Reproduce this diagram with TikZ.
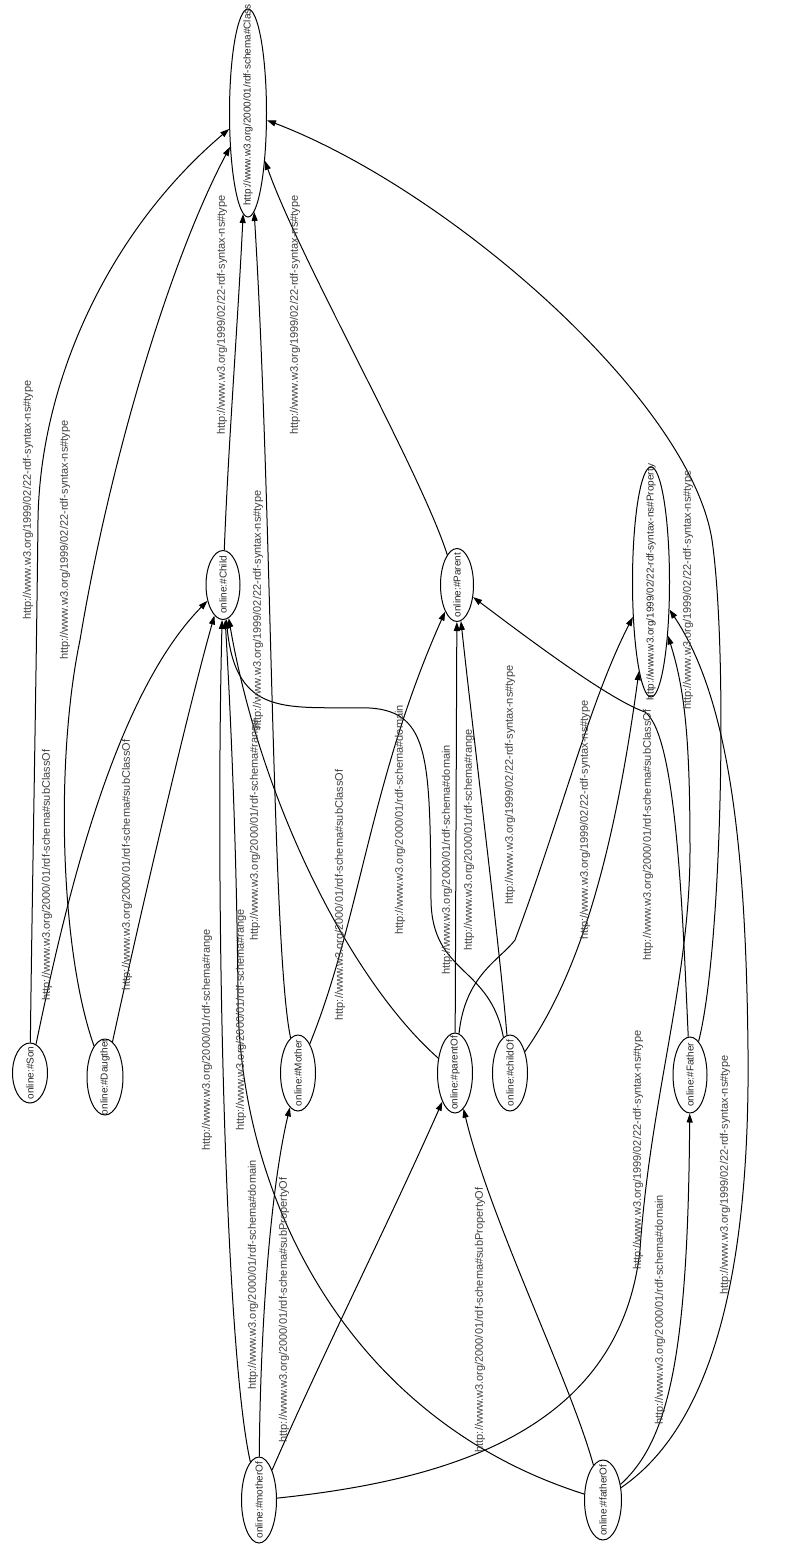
\documentclass[tikz,border=0pt]{standalone}
\usepackage{fontspec}
\setmainfont{Liberation Sans}
\usetikzlibrary{shapes.geometric,arrows.meta}

\tikzset{
  ent/.style 2 args={ellipse, draw, line width=0.5pt, inner sep=0pt, minimum width=#1*0.5pt, minimum height=#2*0.5pt, font=\fontsize{5}{6}\selectfont, text=black!85},
  rel/.style={draw, line width=0.5pt, -{Triangle[length=4.5pt,width=3pt]}},
  lbl/.style={rotate=90, inner sep=0pt, text=black!75},
}
\newcommand{\vtxt}[1]{\rotatebox{90}{\makebox[0pt]{#1}}}

\begin{document}
\begin{tikzpicture}[x=0.5pt,y=-0.5pt,font=\fontsize{5.5}{6.5}\selectfont]
\useasboundingbox[fill=white] (0,0) rectangle (784,1548);

% classes and properties
\node[ent={37}{208}] (cls) at (248,113) {\vtxt{\hspace*{8pt}http://www.w3.org/2000/01/rdf-schema\#Class}};
\node[ent={34}{69}] (child) at (223,585) {\vtxt{online:\#Child}};
\node[ent={33}{73}] (parent) at (457,585) {\vtxt{online:\#Parent}};
\node[ent={37}{230}] (prop) at (651,582) {\vtxt{http://www.w3.org/1999/02/22-rdf-syntax-ns\#Property}};
\node[ent={35}{60}] (son) at (30,1073) {\vtxt{online:\#Son}};
\node[ent={36}{76}] (daughter) at (105,1077) {\vtxt{online:\#Daugther}};
\node[ent={35}{76}] (mother) at (298,1073) {\vtxt{online:\#Mother}};
\node[ent={35}{80}] (parentof) at (455,1073) {\vtxt{online:\#parentOf}};
\node[ent={35}{76}] (childof) at (510,1073) {\vtxt{online:\#childOf}};
\node[ent={34}{76}] (father) at (690,1075) {\vtxt{online:\#Father}};
\node[ent={35}{86}] (motherof) at (259,1500) {\vtxt{online:\#motherOf}};
\node[ent={37}{80}] (fatherof) at (603,1500) {\vtxt{online:\#fatherOf}};

% edges
\draw[rel] (son) .. controls (32,900) and (36,700) .. (38,520) .. controls (40,380) and (110,230) .. (cls);
\draw[rel] (son) .. controls (62,920) and (110,700) .. (child);
\draw[rel] (daughter) .. controls (60,950) and (55,760) .. (80,640) .. controls (110,460) and (170,260) .. (cls);
\draw[rel] (daughter) .. controls (130,960) and (185,720) .. (child);
\draw[rel] (child) .. controls (228,450) and (238,320) .. (cls);
\draw[rel] (mother) .. controls (272,950) and (272,500) .. (cls);
\draw[rel] (parent) .. controls (420,470) and (300,260) .. (cls);
\draw[rel] (mother) .. controls (360,920) and (370,780) .. (parent);
\draw[rel] (parentof) .. controls (350,980) and (260,800) .. (child);
\draw[rel] (motherof) .. controls (225,1350) and (215,900) .. (child);
\draw[rel] (fatherof) .. controls (350,1420) and (240,1200) .. (238,1000) .. controls (237,850) and (230,700) .. (child);
\draw[rel] (childof) .. controls (490,965) and (432,975) .. (431,900) .. controls (430,760) and (430,712) .. (370,708) .. controls (290,706) and (236,720) .. (child);
\draw[rel] (parentof) -- (parent);
\draw[rel] (childof) .. controls (500,950) and (475,750) .. (parent);
\draw[rel] (parentof) .. controls (465,975) and (500,960) .. (515,940) .. controls (560,820) and (590,700) .. (prop);
\draw[rel] (childof) .. controls (575,980) and (612,870) .. (prop);
\draw[rel] (father) .. controls (682,900) and (676,735) .. (645,712) .. controls (610,700) and (530,640) .. (parent);
\draw[rel] (father) .. controls (722,950) and (728,650) .. (712,540) .. controls (690,400) and (450,190) .. (cls);
\draw[rel] (motherof) .. controls (450,1480) and (620,1430) .. (640,1250) .. controls (650,1100) and (690,980) .. (690,850) .. controls (690,740) and (685,690) .. (prop);
\draw[rel] (fatherof) .. controls (720,1420) and (750,1250) .. (748,1050) .. controls (746,850) and (730,700) .. (prop);
\draw[rel] (motherof) .. controls (260,1350) and (268,1200) .. (mother);
\draw[rel] (motherof) .. controls (320,1360) and (390,1220) .. (parentof);
\draw[rel] (fatherof) .. controls (570,1380) and (490,1220) .. (parentof);
\draw[rel] (fatherof) .. controls (670,1440) and (688,1350) .. (father);

% edge labels
\node[lbl] (l1) at (28,500) {http://www.w3.org/1999/02/22-rdf-syntax-ns\#type};
\node[lbl] (l2) at (47,875) {http://www.w3.org/2000/01/rdf-schema\#subClassOf};
\node[lbl] (l3) at (65,540) {http://www.w3.org/1999/02/22-rdf-syntax-ns\#type};
\node[lbl] (l4) at (127,865) {http://www.w3.org/2000/01/rdf-schema\#subClassOf};
\node[lbl] (l5) at (222,315) {http://www.w3.org/1999/02/22-rdf-syntax-ns\#type};
\node[lbl] (l6) at (258,610) {http://www.w3.org/1999/02/22-rdf-syntax-ns\#type};
\node[lbl] (l7) at (295,315) {http://www.w3.org/1999/02/22-rdf-syntax-ns\#type};
\node[lbl] (l8) at (340,895) {http://www.w3.org/2000/01/rdf-schema\#subClassOf};
\node[lbl] (l9) at (255,830) {http://www.w3.org/2000/01/rdf-schema\#range};
\node[lbl] (l10) at (207,1040) {http://www.w3.org/2000/01/rdf-schema\#range};
\node[lbl] (l11) at (241,1020) {http://www.w3.org/2000/01/rdf-schema\#range};
\node[lbl] (l12) at (400,820) {http://www.w3.org/2000/01/rdf-schema\#domain};
\node[lbl] (l13) at (447,860) {http://www.w3.org/2000/01/rdf-schema\#domain};
\node[lbl] (l14) at (469,840) {http://www.w3.org/2000/01/rdf-schema\#range};
\node[lbl] (l15) at (510,785) {http://www.w3.org/1999/02/22-rdf-syntax-ns\#type};
\node[lbl] (l16) at (585,820) {http://www.w3.org/1999/02/22-rdf-syntax-ns\#type};
\node[lbl] (l17) at (648,835) {http://www.w3.org/2000/01/rdf-schema\#subClassOf};
\node[lbl] (l18) at (688,590) {http://www.w3.org/1999/02/22-rdf-syntax-ns\#type};
\node[lbl] (l19) at (638,1150) {http://www.w3.org/1999/02/22-rdf-syntax-ns\#type};
\node[lbl] (l20) at (725,1175) {http://www.w3.org/1999/02/22-rdf-syntax-ns\#type};
\node[lbl] (l21) at (253,1275) {http://www.w3.org/2000/01/rdf-schema\#domain};
\node[lbl] (l22) at (284,1310) {http://www.w3.org/2000/01/rdf-schema\#subPropertyOf};
\node[lbl] (l23) at (480,1320) {http://www.w3.org/2000/01/rdf-schema\#subPropertyOf};
\node[lbl] (l24) at (660,1310) {http://www.w3.org/2000/01/rdf-schema\#domain};
\end{tikzpicture}
\end{document}
